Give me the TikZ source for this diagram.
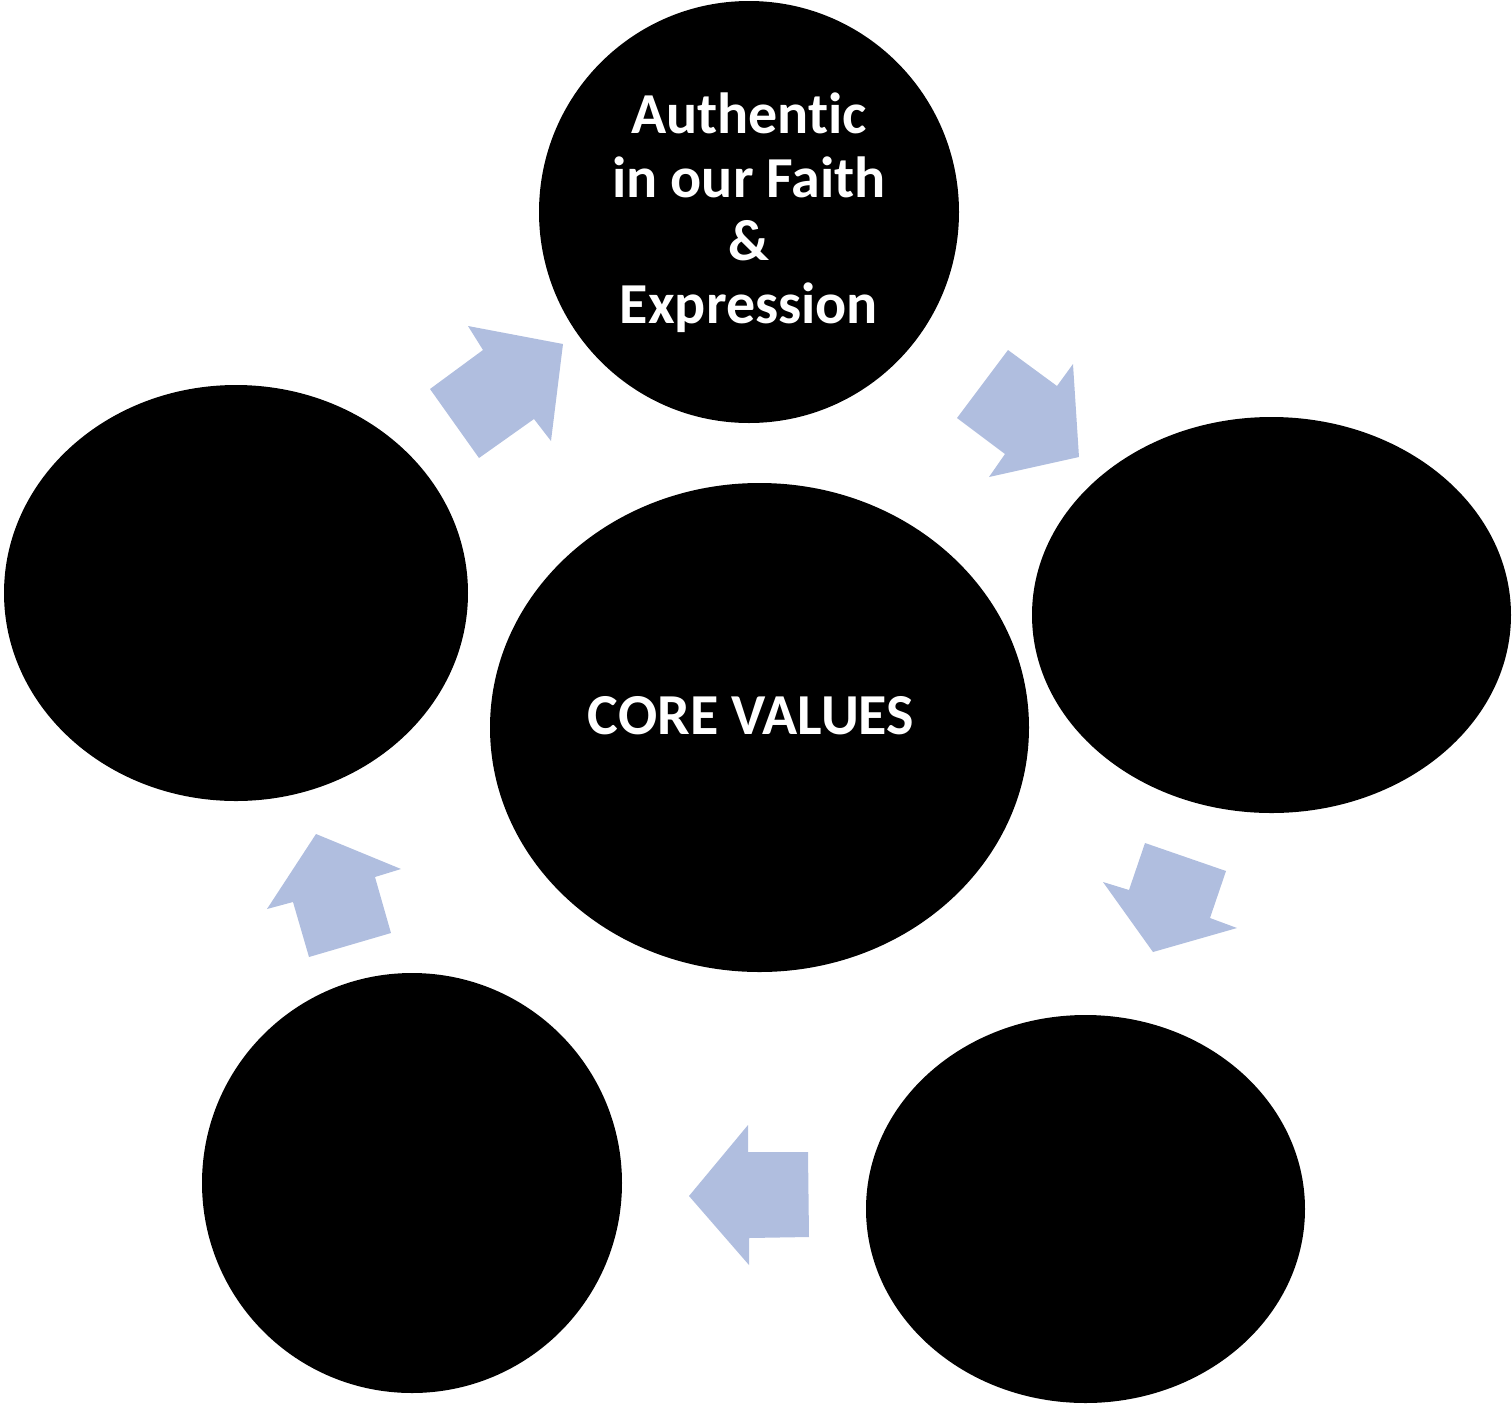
\documentclass[tikz,border=0pt]{standalone}
\usepackage{fontspec}
\setmainfont[Ligatures={NoCommon}]{Carlito}
\usetikzlibrary{shapes.geometric}
\definecolor{arrowblue}{HTML}{B0BEDF}
\begin{document}
\begin{tikzpicture}[x=0.5pt,y=-0.5pt,
  blob/.style={ellipse,fill=black,inner sep=0pt,draw=none},
  lbl/.style={text=white,font=\fontsize{29}{31.7}\selectfont\bfseries,align=center,inner sep=0pt},
  arr/.style={fill=arrowblue,draw=none}]
\useasboundingbox (0,0) rectangle (1512,1404);
% circles
\node[blob,minimum width=210pt,minimum height=211pt] (top) at (749,212) {};
\node[blob,minimum width=269.5pt,minimum height=244.5pt] (core) at (759.5,727.5) {};
\node[blob,minimum width=239.5pt,minimum height=198pt] (right) at (1271.5,615) {};
\node[blob,minimum width=219.5pt,minimum height=194pt] (bright) at (1085.5,1209) {};
\node[blob,minimum width=210pt,minimum height=210pt] (bleft) at (412,1183) {};
\node[blob,minimum width=232pt,minimum height=208pt] (left) at (236,593) {};
% texts
\node[lbl] (toptext) at (749,213) {Authentic\\in our Faith\\\&\\Expression};
\node[lbl] (coretext) at (751,716) {CORE VALUES};
% arrows
\fill[arr] (430,389) -- (483,350) -- (468,326) -- (563,344) -- (551,441) -- (534,419) -- (479,458) -- cycle;
\fill[arr] (1008,350) -- (1057,386) -- (1073,364) -- (1079,457) -- (989,477) -- (1005,454) -- (957,418) -- cycle;
\fill[arr] (1145,843) -- (1226,871) -- (1210,918) -- (1237,928) -- (1153,952) -- (1103,882) -- (1129,890) -- cycle;
\fill[arr] (748,1125) -- (748,1152) -- (808,1152) -- (809,1237) -- (749,1238) -- (749,1265) -- (689,1196) -- cycle;
\fill[arr] (316,834) -- (401,869) -- (375,877) -- (391,933) -- (309,957) -- (293,902) -- (267,909) -- cycle;
\end{tikzpicture}
\end{document}
